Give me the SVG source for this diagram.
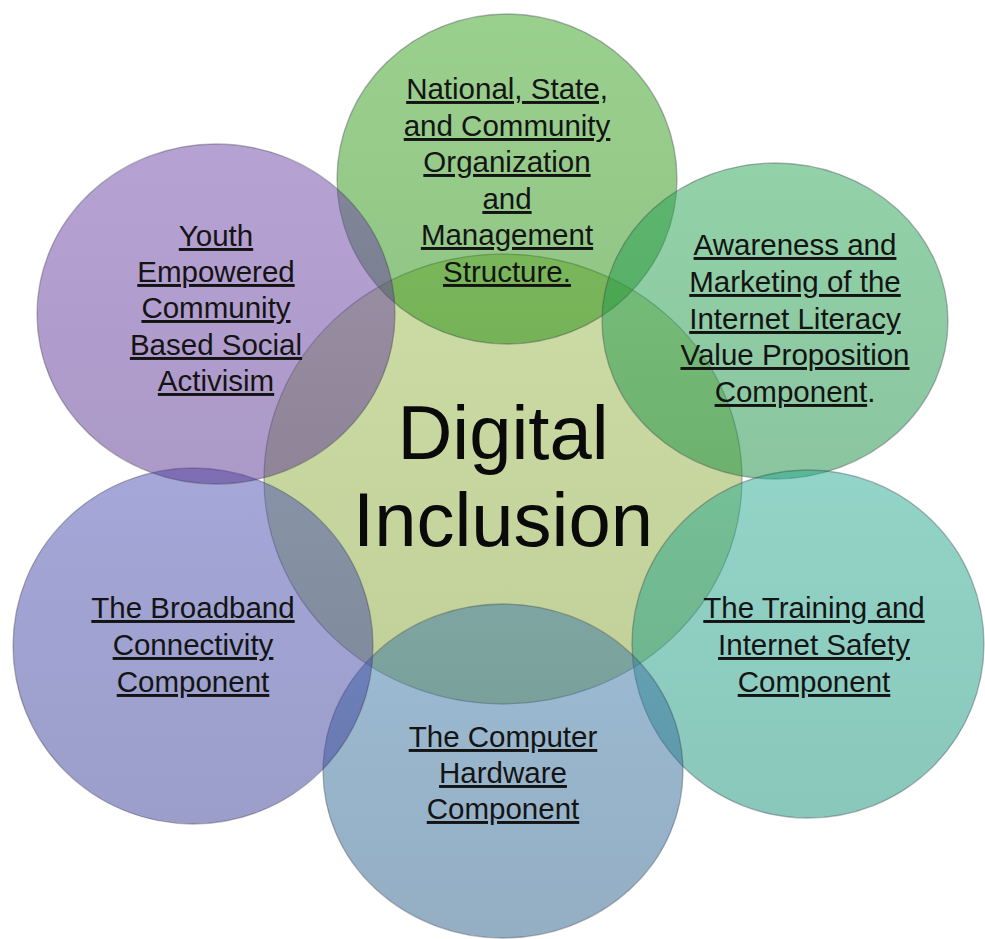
<svg xmlns="http://www.w3.org/2000/svg" width="985" height="939" viewBox="0 0 985 939">
<defs>
<linearGradient id="gC" x1="0" y1="0" x2="0" y2="1"><stop offset="0" stop-color="#98b94a"/><stop offset="1" stop-color="#82a232"/></linearGradient>
<linearGradient id="gT" x1="0" y1="0" x2="0" y2="1"><stop offset="0" stop-color="#36a11e"/><stop offset="1" stop-color="#238a0c"/></linearGradient>
<linearGradient id="gTR" x1="0" y1="0" x2="0" y2="1"><stop offset="0" stop-color="#26a453"/><stop offset="1" stop-color="#168c40"/></linearGradient>
<linearGradient id="gR" x1="0" y1="0" x2="0" y2="1"><stop offset="0" stop-color="#26aa90"/><stop offset="1" stop-color="#168f78"/></linearGradient>
<linearGradient id="gB" x1="0" y1="0" x2="0" y2="1"><stop offset="0" stop-color="#3a78a8"/><stop offset="1" stop-color="#2a5e88"/></linearGradient>
<linearGradient id="gL" x1="0" y1="0" x2="0" y2="1"><stop offset="0" stop-color="#4a50b0"/><stop offset="1" stop-color="#383e94"/></linearGradient>
<linearGradient id="gP" x1="0" y1="0" x2="0" y2="1"><stop offset="0" stop-color="#6e44a8"/><stop offset="1" stop-color="#583490"/></linearGradient>
</defs>
<style>
.c{fill-opacity:0.5;stroke:#334;stroke-opacity:0.35;stroke-width:1.3}
.t{font-family:"Liberation Sans",Arial,sans-serif;font-size:29.5px;fill:#141414;text-anchor:middle}
.u{text-decoration:underline}
.big{font-family:"Liberation Sans",Arial,sans-serif;font-size:76px;fill:#0a0a0a;text-anchor:middle}
</style>
<rect width="985" height="939" fill="#ffffff"/>
<g id="center">
<ellipse class="c" cx="503" cy="479" rx="239" ry="225" fill="url(#gC)"/>
<text class="big" x="503" y="459">Digital</text>
<text class="big" x="503" y="546">Inclusion</text>
</g>
<g id="national">
<ellipse class="c" cx="507" cy="179" rx="170" ry="165" fill="url(#gT)"/>
<text class="t u" x="507" y="99">National, State,</text>
<text class="t u" x="507" y="136">and Community</text>
<text class="t u" x="507" y="172">Organization</text>
<text class="t u" x="507" y="209">and</text>
<text class="t u" x="507" y="245">Management</text>
<text class="t u" x="507" y="282">Structure.</text>
</g>
<g id="awareness">
<ellipse class="c" cx="775" cy="321" rx="173" ry="158" fill="url(#gTR)"/>
<text class="t u" x="795" y="255">Awareness and</text>
<text class="t u" x="795" y="292">Marketing of the</text>
<text class="t u" x="795" y="329">Internet Literacy</text>
<text class="t u" x="795" y="365">Value Proposition</text>
<text class="t" x="795" y="402"><tspan class="u">Component</tspan>.</text>
</g>
<g id="training">
<ellipse class="c" cx="808" cy="644" rx="176" ry="174" fill="url(#gR)"/>
<text class="t u" x="814" y="618">The Training and</text>
<text class="t u" x="814" y="655">Internet Safety</text>
<text class="t u" x="814" y="692">Component</text>
</g>
<g id="hardware">
<ellipse class="c" cx="503" cy="771" rx="180" ry="167" fill="url(#gB)"/>
<text class="t u" x="503" y="747">The Computer</text>
<text class="t u" x="503" y="783">Hardware</text>
<text class="t u" x="503" y="819">Component</text>
</g>
<g id="broadband">
<ellipse class="c" cx="193" cy="646" rx="180" ry="178" fill="url(#gL)"/>
<text class="t u" x="193" y="618">The Broadband</text>
<text class="t u" x="193" y="655">Connectivity</text>
<text class="t u" x="193" y="692">Component</text>
</g>
<g id="youth">
<ellipse class="c" cx="216" cy="314" rx="179" ry="170" fill="url(#gP)"/>
<text class="t u" x="216" y="246">Youth</text>
<text class="t u" x="216" y="282">Empowered</text>
<text class="t u" x="216" y="318">Community</text>
<text class="t u" x="216" y="355">Based Social</text>
<text class="t u" x="216" y="391">Activisim</text>
</g>
<g id="connectors"/>
</svg>
